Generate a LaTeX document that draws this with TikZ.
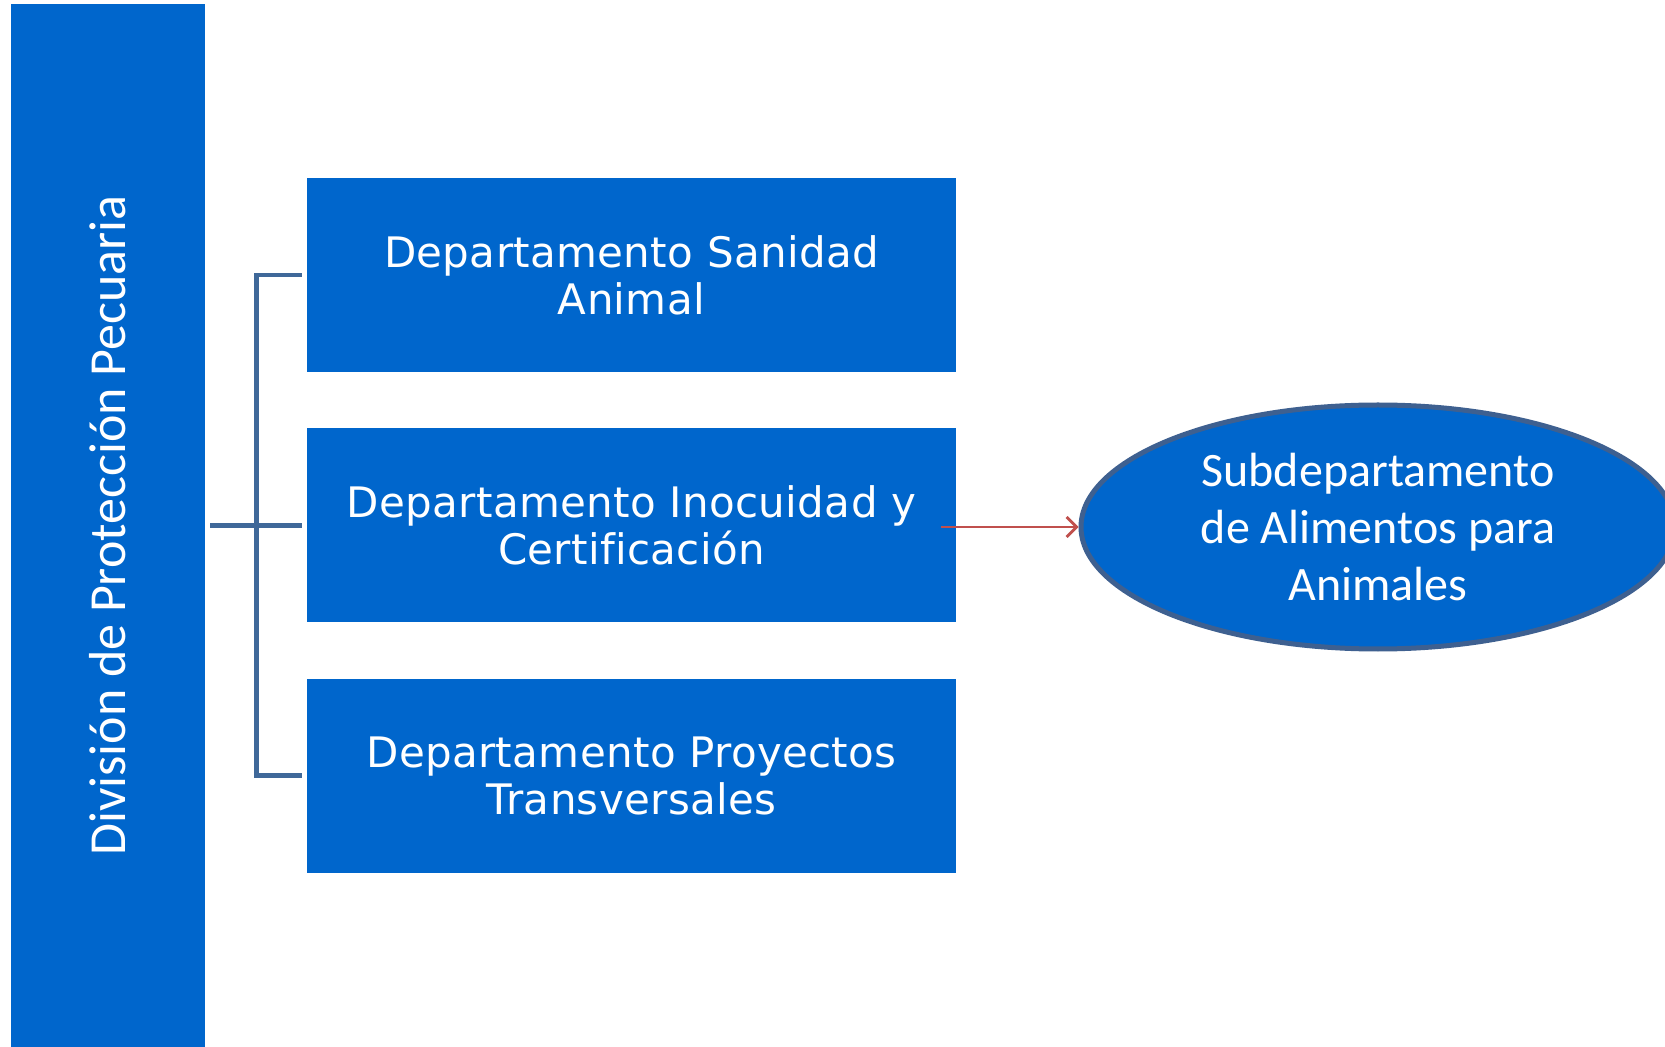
\documentclass[tikz,border=0pt]{standalone}
\usepackage{fontspec}
\setmainfont[Ligatures=NoCommon, LetterSpace=0.8]{DejaVu Sans}
\newfontfamily\calibri{Carlito}
\usepackage{tikz}
\usetikzlibrary{arrows.meta, shapes.geometric, positioning, calc}
\definecolor{boxblue}{HTML}{0066CC}
\definecolor{linkblue}{HTML}{3F6899}
\definecolor{ovalline}{HTML}{3E6090}
\definecolor{arrowred}{HTML}{C0504D}

\begin{document}
\begin{tikzpicture}[x=0.5pt, y=-0.5pt,
						every node/.style = {align=center},
						dept/.style = {fill=boxblue, text=white, minimum width=324.5pt,
							minimum height=97pt, inner sep=0pt,
							font=\fontsize{21}{23.5}\selectfont},
						bracket/.style = {draw=linkblue, line width=2.4pt}]
	\useasboundingbox (0,0) rectangle (1665,1047);
	\fill[white] (0,0) rectangle (1665,1047);
	% the division bar lies on its side, so its south anchor is on the right
	\node[rotate=90, fill=boxblue, text=white, minimum width=521.5pt,
		minimum height=97pt, inner sep=0pt,
		font=\calibri\fontsize{26}{31}\selectfont] (division) at (108,525.5)
		{División de Protección Pecuaria};
	\node[dept] (sanidad) at (631.5,275) {Departamento Sanidad\\Animal};
	\node[dept, below=27.75pt of sanidad] (inocuidad) {Departamento Inocuidad y\\Certificación};
	\node[dept, below=27.75pt of inocuidad] (proyectos) {Departamento Proyectos\\Transversales};
	\node[ellipse, fill=boxblue, draw=ovalline, line width=2.5pt, text=white,
		minimum width=297pt, minimum height=122pt, inner sep=0pt,
		font=\calibri\fontsize{24}{28.5}\selectfont] (alimentos) at (1378,527)
		{Subdepartamento\\de Alimentos para\\Animales};
	% bracket
	\draw[bracket] ([xshift=-2.5pt]sanidad.west) -- ++(-22.5pt,0)
		|- ([xshift=-2.5pt]proyectos.west);
	\draw[bracket] ([xshift=2.5pt]division.south |- inocuidad.west) -- ([xshift=-2.5pt]inocuidad.west);
	\draw[arrowred, line width=1.35pt, -{Straight Barb[length=5pt, width=10pt]}]
		([xshift=-7.5pt]inocuidad.east |- alimentos.west) -- (alimentos.west);
\end{tikzpicture}
\end{document}
